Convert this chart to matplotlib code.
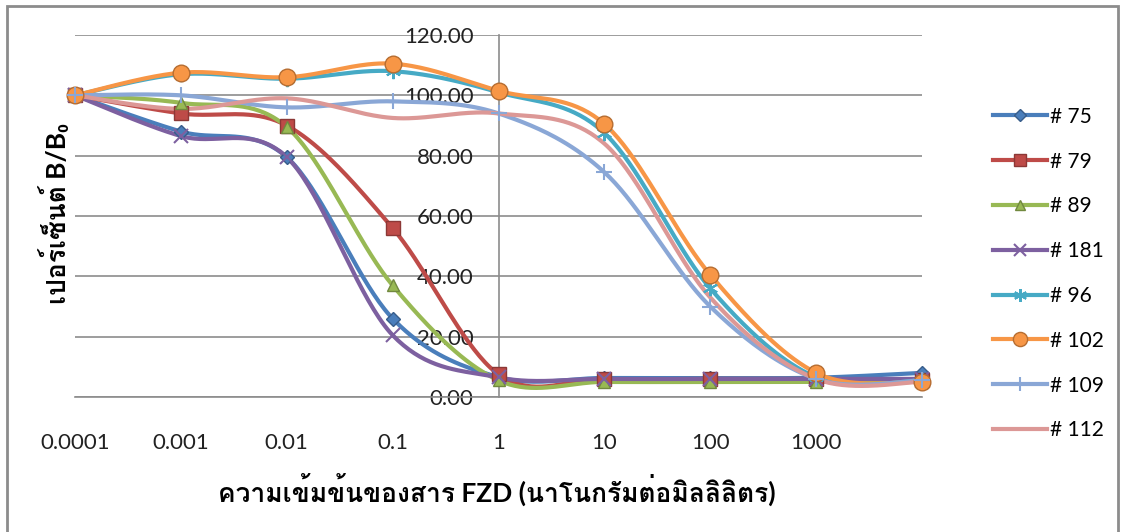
import numpy as np
import matplotlib
matplotlib.use("Agg")
import matplotlib.pyplot as plt
from matplotlib import font_manager as fm
from matplotlib.ft2font import FT2Font
from matplotlib.ticker import FixedLocator, FormatStrFormatter, NullLocator
from matplotlib.patches import Rectangle

# concentrations (ng/ml) and B/B0 percent per antibody clone
conc = [0.0001, 0.001, 0.01, 0.1, 1, 10, 100, 1000, 10000]
s75 = [100, 88.0, 79.5, 26.0, 6.6, 6.3, 6.3, 6.4, 8.0]
s79 = [100, 94.0, 90.0, 56.0, 7.5, 6.0, 6.0, 6.0, 5.5]
s89 = [100, 97.5, 89.5, 37.0, 5.5, 5.0, 5.0, 5.0, 5.0]
s181 = [100, 86.5, 79.5, 20.5, 6.5, 6.0, 6.0, 6.0, 6.0]
s96 = [100, 107.0, 105.5, 108.0, 101.0, 87.5, 36.0, 6.5, 5.5]
s102 = [100, 107.5, 106.0, 110.5, 101.5, 90.5, 40.5, 8.0, 5.0]
s109 = [100, 100.0, 96.0, 98.0, 94.0, 74.5, 30.0, 6.0, 5.5]
s112 = [100, 95.5, 99.0, 92.5, 94.0, 84.0, 33.0, 6.0, 5.0]

labels = ["# 75", "# 79", "# 89", "# 181", "# 96", "# 102", "# 109", "# 112"]
series = [s75, s79, s89, s181, s96, s102, s109, s112]
xtick_vals = [0.0001, 0.001, 0.01, 0.1, 1, 10, 100, 1000]
xtick_text = ["0.0001", "0.001", "0.01", "0.1", "1", "10", "100", "1000"]
yticks = [0, 20, 40, 60, 80, 100, 120]

colors = ["#4a7ebb", "#be4b48", "#98b954", "#7d60a0", "#46aac5", "#f79646", "#8aa7d6", "#dc9896"]
edges = ["#385d8a", "#8c3836", "#71893f", "#5c4776", "#357d91", "#b66d31", "#8aa7d6", "#dc9896"]
markers = ["D", "s", "^", "x", (6, 2, 0), "o", "+", None]
msizes = [7, 10, 9, 10, 11, 12, 12, 0]
thin = ("x", "+", (6, 2, 0))


def thai_font():
    # installed font with Thai glyphs; want a bold face, sans faces first
    regular, bold = [], []
    for f in fm.fontManager.ttflist:
        try:
            cmap = FT2Font(f.fname).get_charmap()
        except Exception:
            continue
        if ord("\u0e01") in cmap and ord("\u0e40") in cmap:
            w = f.weight if isinstance(f.weight, int) else fm.weight_dict.get(f.weight, 400)
            (bold if w >= 600 else regular).append(f.name)
    for pool in (bold, regular):
        for pref in ("Noto Sans Thai", "Loma", "Garuda", "Waree", "Tlwg Typo", "Umpush", "Sawasdee"):
            for n in pool:
                if n.startswith(pref):
                    return n
        if pool:
            return pool[0]
    return None


tf = thai_font()
num_font = "Lato"
thai_family = [num_font, tf] if tf else [num_font, "DejaVu Sans"]


def smooth(x, y, n=40):
    # Excel style smoothed line: Catmull-Rom bezier in (log x, y)
    p = np.column_stack([np.log10(x), y])
    ext = np.vstack([p[0], p, p[-1]])
    out = []
    t = np.linspace(0, 1, n)[:, None]
    for i in range(len(p) - 1):
        p0, p1, p2, p3 = ext[i], ext[i + 1], ext[i + 2], ext[i + 3]
        c1 = p1 + (p2 - p0) / 6
        c2 = p2 - (p3 - p1) / 6
        seg = (1 - t) ** 3 * p1 + 3 * (1 - t) ** 2 * t * c1 + 3 * (1 - t) * t ** 2 * c2 + t ** 3 * p2
        out.append(seg if i == 0 else seg[1:])
    out = np.vstack(out)
    return 10 ** out[:, 0], out[:, 1]


fig = plt.figure(figsize=(11.26, 5.32), dpi=100)
ax = fig.add_axes([75 / 1126, 135 / 532, 847 / 1126, 362 / 532])

handles = []
for ys, lab, c, ec, m, ms in zip(series, labels, colors, edges, markers, msizes):
    sx, sy = smooth(conc, ys)
    ax.plot(sx, sy, color=c, lw=3.0, solid_capstyle="round", clip_on=False, zorder=3)
    mec = c if m in thin else ec
    mew = 1.5 if m in thin else 1.0
    if m is not None:
        ax.plot(conc, ys, ls="none", marker=m, ms=ms, mfc=c, mec=mec, mew=mew, clip_on=False, zorder=4)
    h, = ax.plot([], [], color=c, lw=3.0, marker=m, ms=ms * 0.85 if ms else 0, mfc=c, mec=mec, mew=mew)
    handles.append(h)

ax.set_xscale("log")
ax.set_xlim(1e-4, 1e4)
ax.set_ylim(0, 120)
ax.xaxis.set_major_locator(FixedLocator(xtick_vals))
ax.set_xticklabels(xtick_text)
ax.xaxis.set_minor_locator(NullLocator())
ax.set_yticks(yticks)
ax.yaxis.set_major_formatter(FormatStrFormatter("%.2f"))
ax.grid(axis="y", color="#8c8c8c", lw=1.2, zorder=0)
ax.set_axisbelow(True)

for s in ("top", "right"):
    ax.spines[s].set_visible(False)
ax.spines["left"].set_position(("data", 1))
ax.spines["left"].set_color("#8c8c8c")
ax.spines["left"].set_linewidth(1.2)
ax.spines["bottom"].set_color("#8c8c8c")
ax.spines["bottom"].set_linewidth(1.2)

ax.tick_params(axis="x", length=0, pad=26, labelsize=16, labelcolor="#222222")
ax.tick_params(axis="y", length=0, pad=18, labelsize=16, labelcolor="#222222")
for t in ax.get_xticklabels() + ax.get_yticklabels():
    t.set_fontfamily(num_font)

fig.text(497 / 1126, 1 - 490 / 532, "ความเข้มข้นของสาร FZD (นาโนกรัมต่อมิลลิลิตร)",
         ha="center", va="center", fontsize=19, fontweight="bold", family=thai_family)
fig.text(55 / 1126, 1 - 214 / 532, "เปอร์เซ็นต์ B/B\u2080", rotation=90,
         ha="center", va="center", fontsize=19, fontweight="bold", family=thai_family)

leg = fig.legend(handles, labels, loc="upper left", bbox_to_anchor=(974 / 1126, 1 - 88 / 532),
                 frameon=False, handlelength=2.6, handletextpad=0.15, labelspacing=1.19,
                 prop={"family": num_font, "size": 15})

# chart outer frame
fig.patches.append(Rectangle((7 / 1126, -0.1), 1111 / 1126, 1.1 - 6 / 532, transform=fig.transFigure,
                             fill=False, ec="#8c8c8c", lw=2))

fig.savefig("out.png", dpi=100)
